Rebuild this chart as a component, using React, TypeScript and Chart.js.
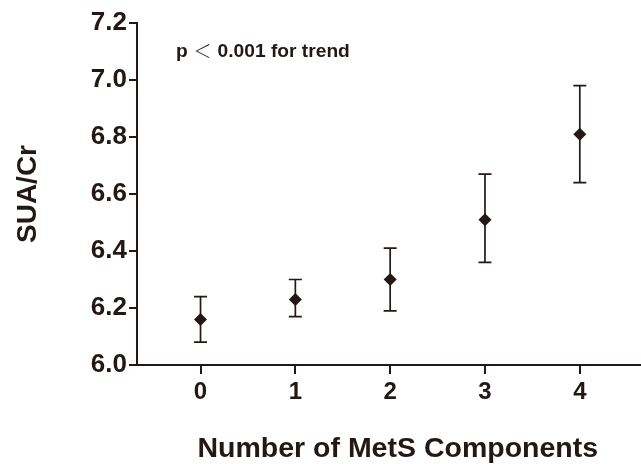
import React, { useEffect, useRef } from "react";
import { Chart, registerables } from "chart.js";

Chart.register(...registerables);

const categories = [0, 1, 2, 3, 4];
const means = [6.16, 6.23, 6.3, 6.51, 6.81];
const upper = [6.24, 6.3, 6.41, 6.67, 6.98];
const lower = [6.08, 6.17, 6.19, 6.36, 6.64];
const xTicks = [0, 1, 2, 3, 4];
const yTickStep = 0.2;
const annotationParts = ["p", "＜", "0.001 for trend"];

const INK = "#231815";
const FONT = "'Liberation Sans', Arial, Helvetica, sans-serif";

const errorBarPlugin = {
  id: "errorBars",
  beforeDatasetsDraw(chart: any) {
    const ctx = chart.ctx;
    const xs = chart.scales.x;
    const ys = chart.scales.y;
    ctx.save();
    ctx.strokeStyle = INK;
    ctx.lineWidth = 1.7;
    categories.forEach((c, i) => {
      const x = xs.getPixelForValue(c);
      const yt = ys.getPixelForValue(upper[i]);
      const yb = ys.getPixelForValue(lower[i]);
      const cap = 6.5;
      ctx.beginPath();
      ctx.moveTo(x, yt);
      ctx.lineTo(x, yb);
      ctx.moveTo(x - cap, yt);
      ctx.lineTo(x + cap, yt);
      ctx.moveTo(x - cap, yb);
      ctx.lineTo(x + cap, yb);
      ctx.stroke();
    });
    ctx.restore();
  },
};

// Tick marks outside the axes, placed from the scales' own ticks.
const tickMarkPlugin = {
  id: "tickMarks",
  afterDraw(chart: any) {
    const ctx = chart.ctx;
    const xs = chart.scales.x;
    const ys = chart.scales.y;
    const area = chart.chartArea;
    ctx.save();
    ctx.strokeStyle = INK;
    ctx.lineWidth = 2;
    ctx.beginPath();
    xs.ticks.forEach((t: any) => {
      const px = Math.round(xs.getPixelForValue(t.value));
      ctx.moveTo(px, area.bottom);
      ctx.lineTo(px, area.bottom + 9);
    });
    ys.ticks.forEach((t: any) => {
      const py = Math.round(ys.getPixelForValue(t.value));
      ctx.moveTo(area.left - 8, py);
      ctx.lineTo(area.left, py);
    });
    ctx.stroke();
    ctx.restore();
  },
};

const textPlugin = {
  id: "trendText",
  afterDraw(chart: any) {
    const ctx = chart.ctx;
    const xs = chart.scales.x;
    const ys = chart.scales.y;
    ctx.save();
    ctx.fillStyle = INK;
    ctx.textAlign = "left";
    ctx.textBaseline = "middle";
    let x = xs.getPixelForValue(-0.26);
    const y = ys.getPixelForValue(7.1);
    ctx.font = `bold 19.2px ${FONT}`;
    ctx.fillText(annotationParts[0], x, y);
    x += ctx.measureText(annotationParts[0]).width + 6;
    ctx.font = `300 18px 'Noto Sans CJK SC', sans-serif`;
    ctx.fillText(annotationParts[1], x, y);
    x += ctx.measureText(annotationParts[1]).width + 6;
    ctx.font = `bold 19.2px ${FONT}`;
    ctx.fillText(annotationParts[2], x, y);
    ctx.restore();
  },
};

export default function App() {
  const ref = useRef<HTMLCanvasElement>(null);
  useEffect(() => {
    if (!ref.current) return;
    const chart = new Chart(ref.current, {
      type: "scatter",
      data: {
        datasets: [
          {
            data: categories.map((c, i) => ({ x: c, y: means[i] })),
            pointStyle: "rectRot",
            pointRadius: 6.5,
            pointHoverRadius: 6.5,
            backgroundColor: INK,
            borderColor: INK,
            borderWidth: 0,
            showLine: false,
          },
        ],
      },
      options: {
        responsive: false,
        animation: false,
        events: [],
        layout: { padding: { top: 23, left: 0, right: 0, bottom: 0 } },
        plugins: { legend: { display: false }, tooltip: { enabled: false } },
        scales: {
          x: {
            type: "linear",
            min: -0.67,
            max: 4.83,
            afterBuildTicks: (s: any) => {
              s.ticks = xTicks.map((v) => ({ value: v }));
            },
            afterFit: (s: any) => {
              s.height = 99;
            },
            grid: {
              display: true,
              drawOnChartArea: false,
              drawTicks: true,
              tickLength: 9,
              color: INK,
              lineWidth: 2,
              tickColor: INK,
              tickWidth: 2,
            },
            border: { display: true, color: INK, width: 2 },
            ticks: {
              color: INK,
              font: { family: FONT, size: 24, weight: "bold" },
              padding: 4,
              callback: (v: any) => String(v),
            },
            title: {
              display: true,
              text: "Number of MetS Components",
              color: INK,
              font: { family: FONT, size: 28.5, weight: "bold" },
              padding: { top: 0, bottom: -2 },
            },
          },
          y: {
            type: "linear",
            min: 6.0,
            max: 7.2,
            afterFit: (s: any) => {
              s.width = 137;
            },
            grid: {
              display: true,
              drawOnChartArea: false,
              drawTicks: true,
              tickLength: 8,
              color: INK,
              lineWidth: 2,
              tickColor: INK,
              tickWidth: 2,
            },
            border: { display: true, color: INK, width: 2 },
            ticks: {
              stepSize: yTickStep,
              color: INK,
              font: { family: FONT, size: 26, weight: "bold" },
              padding: 2,
              callback: (v: any) => Number(v).toFixed(1),
            },
            title: {
              display: true,
              text: "SUA/Cr",
              color: INK,
              font: { family: FONT, size: 28, weight: "bold" },
              padding: { top: 11, bottom: 0 },
            },
          },
        },
      },
      plugins: [errorBarPlugin, tickMarkPlugin, textPlugin],
    });
    return () => chart.destroy();
  }, []);
  return (
    <div
      style={{
        position: "absolute",
        left: 0,
        top: 0,
        width: 641,
        height: 464,
        overflow: "hidden",
        background: "#fff",
      }}
    >
      <canvas ref={ref} width={665} height={464} style={{ display: "block" }} />
    </div>
  );
}
